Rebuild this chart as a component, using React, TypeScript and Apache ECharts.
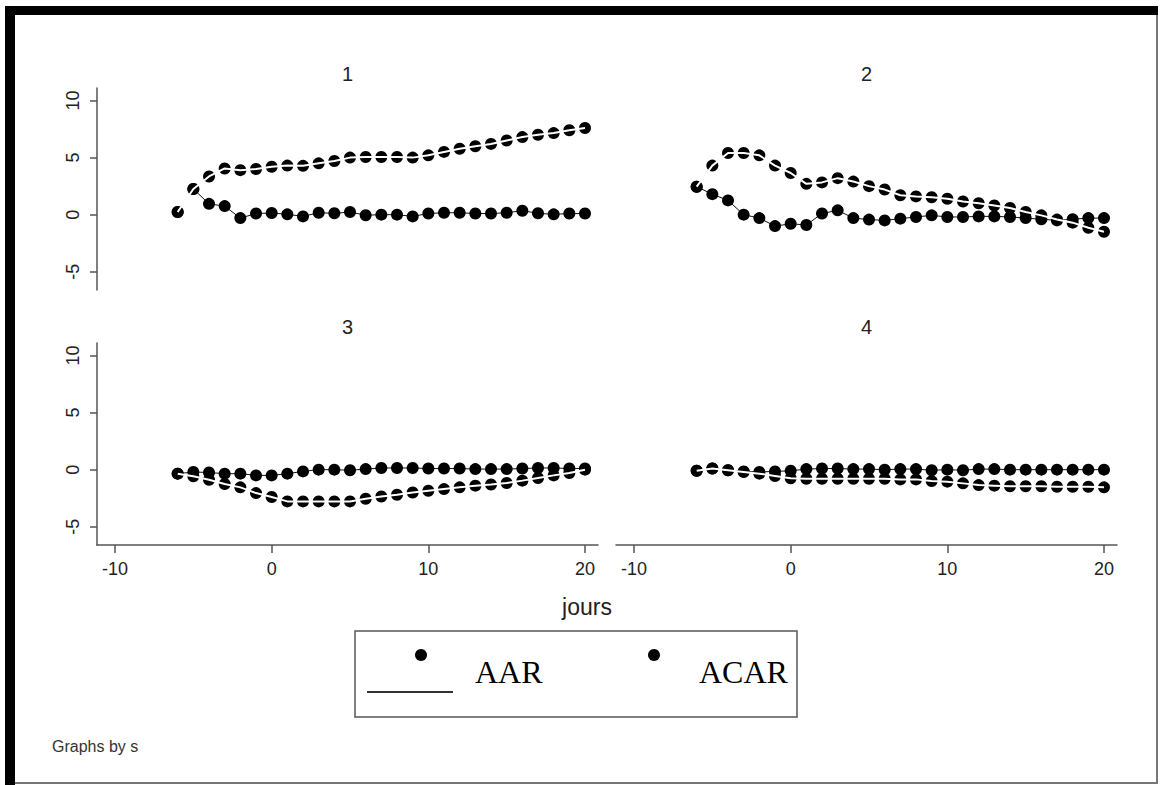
import React, { useEffect, useRef } from "react";
import * as echarts from "echarts";

const days = [-6, -5, -4, -3, -2, -1, 0, 1, 2, 3, 4, 5, 6, 7, 8, 9, 10, 11, 12, 13, 14, 15, 16, 17, 18, 19, 20];

const panelTitles = ["1", "2", "3", "4"];
const yTicks = [-5, 0, 5, 10];
const xTicks = [-10, 0, 10, 20];

const aar1 = [0.23, 2.25, 0.95, 0.75, -0.3, 0.1, 0.15, 0.03, -0.15, 0.17, 0.12, 0.23, -0.05, 0, 0, -0.15, 0.1, 0.17, 0.17, 0.1, 0.1, 0.17, 0.35, 0.12, 0.03, 0.1, 0.1];
const acar1 = [0.23, 2.25, 3.35, 4.05, 3.9, 4.0, 4.2, 4.3, 4.28, 4.5, 4.7, 5.0, 5.05, 5.05, 5.05, 5.0, 5.2, 5.5, 5.78, 6.0, 6.2, 6.5, 6.8, 7.0, 7.15, 7.4, 7.6];

const aar2 = [2.45, 1.8, 1.25, 0, -0.3, -1.0, -0.8, -0.9, 0.1, 0.38, -0.3, -0.43, -0.5, -0.35, -0.2, -0.06, -0.2, -0.2, -0.15, -0.15, -0.2, -0.3, -0.4, -0.5, -0.4, -0.3, -0.3];
const acar2 = [2.45, 4.3, 5.4, 5.4, 5.2, 4.3, 3.65, 2.7, 2.83, 3.2, 2.9, 2.5, 2.2, 1.7, 1.6, 1.53, 1.4, 1.15, 1.0, 0.8, 0.58, 0.23, -0.06, -0.43, -0.7, -1.15, -1.5];

const aar3 = [-0.35, -0.2, -0.25, -0.35, -0.35, -0.5, -0.5, -0.35, -0.15, 0, 0, -0.05, 0.05, 0.15, 0.15, 0.15, 0.1, 0.1, 0.1, 0.05, 0.05, 0.05, 0.1, 0.15, 0.15, 0.1, 0.1];
const acar3 = [-0.35, -0.58, -0.88, -1.26, -1.55, -2.05, -2.4, -2.78, -2.78, -2.78, -2.78, -2.78, -2.55, -2.35, -2.2, -2.0, -1.85, -1.7, -1.55, -1.4, -1.3, -1.17, -0.96, -0.73, -0.5, -0.3, 0];

const aar4 = [-0.1, 0.1, -0.05, -0.15, -0.2, -0.15, -0.1, 0.05, 0.1, 0.1, 0.05, 0.05, 0, 0.05, 0.05, -0.05, 0, -0.05, 0.05, 0.05, 0, 0, 0, 0, 0, 0, 0];
const acar4 = [-0.1, 0.1, -0.05, -0.2, -0.35, -0.55, -0.75, -0.8, -0.8, -0.8, -0.8, -0.8, -0.8, -0.85, -0.85, -1.0, -1.05, -1.2, -1.35, -1.4, -1.45, -1.45, -1.45, -1.5, -1.5, -1.5, -1.55];

const aarAll = [aar1, aar2, aar3, aar4];
const acarAll = [acar1, acar2, acar3, acar4];
const legendNames = ["AAR", "ACAR"];
const xTitle = "jours";
const noteText = "Graphs by s";

const FONT = "'Liberation Sans', Arial, sans-serif";
const SERIF = "'Liberation Serif', 'Times New Roman', serif";
const grids = [
  { left: 97, top: 88, width: 501, height: 202 },
  { left: 616, top: 88, width: 501, height: 202 },
  { left: 97, top: 343, width: 501, height: 202 },
  { left: 616, top: 343, width: 501, height: 202 },
];

function pairs(vals: number[]) {
  return days.map((d, i) => [d, vals[i]]);
}

export default function App() {
  const ref = useRef<HTMLDivElement>(null);
  useEffect(() => {
    if (!ref.current) return;
    const chart = echarts.init(ref.current, undefined, { renderer: "svg" });
    const axisLineStyle = { color: "#555", width: 1.5 };
    const xAxes = grids.map((_, i) => ({
      type: "value",
      gridIndex: i,
      min: -11.15,
      max: 20.83,
      show: i >= 2,
      splitLine: { show: false },
      axisLine: { show: true, onZero: false, lineStyle: axisLineStyle },
      axisTick: { show: true, length: 8, customValues: xTicks, lineStyle: axisLineStyle },
      axisLabel: { customValues: xTicks, color: "#222", fontSize: 18, fontFamily: FONT, margin: 15 },
    }));
    const yAxes = grids.map((_, i) => ({
      type: "value",
      gridIndex: i,
      min: -6.6,
      max: 11.1,
      show: i % 2 === 0,
      splitLine: { show: false },
      axisLine: { show: true, onZero: false, lineStyle: axisLineStyle },
      axisTick: { show: true, length: 7, customValues: yTicks, lineStyle: axisLineStyle },
      axisLabel: { customValues: yTicks, rotate: 90, color: "#222", fontSize: 18, fontFamily: FONT, margin: 15 },
    }));
    const series: any[] = [];
    for (let i = 0; i < 4; i++) {
      series.push({
        name: legendNames[0],
        type: "line",
        xAxisIndex: i,
        yAxisIndex: i,
        data: pairs(aarAll[i]),
        symbol: "circle",
        symbolSize: 12,
        itemStyle: { color: "#000", opacity: 1 },
        lineStyle: { color: "#111", width: 1 },
        z: 2,
      });
      series.push({
        name: legendNames[1],
        type: "scatter",
        xAxisIndex: i,
        yAxisIndex: i,
        data: pairs(acarAll[i]),
        symbol: "circle",
        symbolSize: 12,
        itemStyle: { color: "#000", opacity: 1 },
        z: 3,
      });
      series.push({
        name: legendNames[1] + "-line",
        type: "line",
        xAxisIndex: i,
        yAxisIndex: i,
        data: pairs(acarAll[i]),
        symbol: "none",
        lineStyle: { color: "#fff", width: 2 },
        z: 4,
      });
    }
    const titleEls = panelTitles.map((t, i) => ({
      type: "text",
      x: grids[i].left + grids[i].width / 2,
      y: i < 2 ? 74 : 327,
      style: { text: t, fill: "#222", font: `20px ${FONT}`, textAlign: "center", textVerticalAlign: "middle" },
    }));
    chart.setOption({
      animation: false,
      backgroundColor: "#fff",
      grid: grids,
      xAxis: xAxes,
      yAxis: yAxes,
      series,
      graphic: [
        { type: "rect", shape: { x: 5, y: 6, width: 10, height: 779 }, style: { fill: "#000" } },
        { type: "rect", shape: { x: 5, y: 6, width: 1153, height: 9 }, style: { fill: "#000" } },
        { type: "line", shape: { x1: 1157, y1: 15, x2: 1157, y2: 784 }, style: { stroke: "#777", lineWidth: 2 } },
        { type: "line", shape: { x1: 15, y1: 783, x2: 1158, y2: 783 }, style: { stroke: "#777", lineWidth: 2 } },
        ...titleEls,
        {
          type: "text",
          x: 587,
          y: 607,
          style: { text: xTitle, fill: "#222", font: `23px ${FONT}`, textAlign: "center", textVerticalAlign: "middle" },
        },
        { type: "rect", shape: { x: 355, y: 631, width: 442, height: 86 }, style: { fill: "none", stroke: "#555", lineWidth: 1.5 } },
        { type: "circle", shape: { cx: 421, cy: 655, r: 6 }, style: { fill: "#000" } },
        { type: "line", shape: { x1: 367, y1: 692, x2: 453, y2: 692 }, style: { stroke: "#333", lineWidth: 2 } },
        {
          type: "text",
          x: 475,
          y: 672,
          style: { text: legendNames[0], fill: "#000", font: `32px ${SERIF}`, textAlign: "left", textVerticalAlign: "middle" },
        },
        { type: "circle", shape: { cx: 654, cy: 655, r: 6 }, style: { fill: "#000" } },
        {
          type: "text",
          x: 699,
          y: 672,
          style: { text: legendNames[1], fill: "#000", font: `32px ${SERIF}`, textAlign: "left", textVerticalAlign: "middle" },
        },
        {
          type: "text",
          x: 52,
          y: 746,
          style: { text: noteText, fill: "#333", font: `16px ${FONT}`, textAlign: "left", textVerticalAlign: "middle" },
        },
      ],
    });
    return () => chart.dispose();
  }, []);
  return <div ref={ref} style={{ position: "fixed", left: 0, top: 0, width: 1160, height: 785 }} />;
}
